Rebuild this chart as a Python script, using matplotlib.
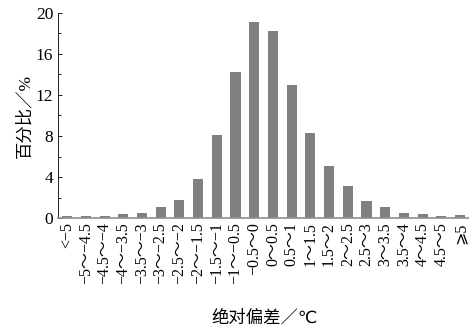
import matplotlib
matplotlib.use("Agg")
import matplotlib.pyplot as plt
from matplotlib.ticker import MultipleLocator

plt.rcParams['font.family'] = ['Liberation Serif', 'DejaVu Sans', 'Noto Sans CJK SC']
plt.rcParams['axes.unicode_minus'] = True

labels = ["<−5", "−5～−4.5", "−4.5～−4", "−4～−3.5", "−3.5～−3", "−3～−2.5",
          "−2.5～−2", "−2～−1.5", "−1.5～−1", "−1～−0.5", "−0.5～0", "0～0.5",
          "0.5～1", "1～1.5", "1.5～2", "2～2.5", "2.5～3", "3～3.5", "3.5～4",
          "4～4.5", "4.5～5", "⩾5"]
percent = [0.2, 0.2, 0.2, 0.4, 0.5, 1.1, 1.75, 3.8, 8.07, 14.2, 19.1, 18.2,
           12.97, 8.3, 5.1, 3.1, 1.7, 1.1, 0.5, 0.4, 0.2, 0.3]

fig = plt.figure(figsize=(4.69, 3.30), dpi=100)
ax = fig.add_axes([0.124, 0.339, 0.876, 0.622])

x = range(len(labels))
ax.bar(x, percent, width=0.54, color="#808080")

ax.set_xlim(-0.48, len(labels) - 0.52)
ax.set_ylim(0, 20)
ax.yaxis.set_major_locator(MultipleLocator(4))
ax.yaxis.set_minor_locator(MultipleLocator(2))
ax.set_xticks(list(x))
ax.set_xticklabels(labels, rotation=90, fontsize=11.5)
ax.tick_params(axis="y", direction="in", labelsize=12.5, length=3, width=0.6)
ax.tick_params(axis="y", which="minor", direction="in", length=2, width=0.6)
ax.tick_params(axis="x", length=0, pad=3)

for s in ["top", "right"]:
    ax.spines[s].set_visible(False)
ax.spines["left"].set_linewidth(0.6)
ax.spines["bottom"].set_linewidth(1.2)
ax.spines["bottom"].set_color("#909090")

ax.set_ylabel("百分比／%", fontsize=12.5, labelpad=2)
fig.text(0.565, 0.035, "绝对偏差／℃", fontsize=12.5, ha="center", va="center")

fig.savefig("out.png", dpi=100)
